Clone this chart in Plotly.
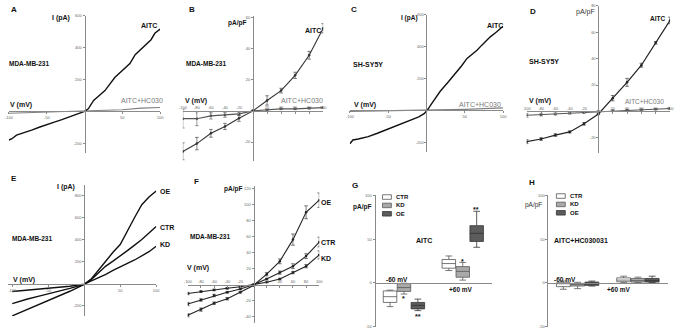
import plotly.graph_objects as go

W, H = 676, 333
AX = "#8a8a8a"
FONT = "Liberation Sans"

# ---------------- data ----------------
# Panel A (MDA-MB-231, I/V ramp, pA)
A_V_AITC = [-100, -96, -90, -80, -70, -60, -50, -40, -30, -20, -10, 0, 5, 12, 18, 27, 40, 52, 60, 67, 80, 88, 93, 100]
A_I_AITC = [-180, -172, -150, -135, -118, -100, -82, -68, -52, -36, -18, 0, 16, 68, 93, 130, 212, 263, 300, 356, 418, 450, 490, 516]
A_V_HC = [-100, -50, 0, 50, 75, 100]
A_I_HC = [-12, -6, 0, 10, 20, 24]

# Panel B (MDA-MB-231, pA/pF, mean +- sem)
B_V = [-100, -80, -60, -40, -20, 0, 20, 40, 60, 80, 100]
B_AITC = [-26, -21, -14.4, -10, -4.7, 0, 6.7, 13, 22.8, 35.7, 53]
B_AITC_ERR = [5.5, 4, 2.5, 2, 2, 0.5, 3, 1.5, 2, 2.5, 3]
B_HC = [-5, -5, -3.2, -2.6, -1.9, 0, 0.6, 1.3, 1.3, 1.7, 2.1]
B_HC_ERR = [6, 4.5, 2, 1.5, 1, 0.3, 0.5, 0.5, 0.5, 0.5, 0.5]

# Panel C (SH-SY5Y, I/V ramp, pA)
C_V_AITC = [-100, -96, -89, -76, -64, -51, -38, -25, -16, -10, -3, 1, 7.5, 18, 29, 40, 46, 53, 66, 72, 83, 91, 100]
C_I_AITC = [-210, -186, -180, -165, -144, -118, -97, -70, -50, -41, -21, 0, 47, 120, 181, 243, 280, 326, 377, 408, 460, 490, 528]
C_V_HC = [-100, -50, 0, 50, 100]
C_I_HC = [-6, -3, 0, 6, 15]

# Panel D (SH-SY5Y, pA/pF)
D_V = [-100, -80, -60, -40, -20, 0, 20, 40, 60, 80, 100]
D_AITC = [-23, -21, -18, -15.6, -9.5, -2, 10, 22, 35, 52, 69]
D_AITC_ERR = [1.5, 1, 1, 0.8, 1, 0.5, 2, 3, 1.5, 1, 2.5]
D_HC = [-3, -2.5, -2, -1.5, -1, 0, 0.5, 1, 1.3, 1.6, 2.2]
D_HC_ERR = [1.5, 1, 0.8, 0.5, 0.5, 0.3, 0.5, 0.5, 0.5, 0.5, 0.8]

# Panel E (MDA-MB-231, CTR / KD / OE ramps, pA)
E_V = [-100, -80, -60, -40, -20, 0, 10, 20, 30, 40, 50, 60, 70, 80, 90, 100]
E_OE = [-290, -235, -180, -125, -68, -5, 45, 125, 210, 285, 355, 480, 600, 715, 785, 840]
E_CTR = [-180, -140, -108, -78, -42, -5, 40, 100, 160, 205, 250, 300, 350, 400, 460, 518]
E_KD = [-70, -58, -45, -35, -22, -3, 25, 55, 85, 120, 155, 185, 215, 250, 290, 340]

# Panel F (MDA-MB-231, pA/pF)
F_V = [-100, -80, -60, -40, -20, 0, 20, 40, 60, 80, 100]
F_OE = [-38, -31, -23, -17.5, -9.4, -1, 13, 29, 56, 90, 105]
F_OE_ERR = [2, 2, 1.5, 1.5, 1, 0.5, 2, 3, 7, 8, 9]
F_CTR = [-24, -19, -13.5, -9.4, -5.3, 0, 7, 15, 23, 35.5, 53]
F_CTR_ERR = [2, 1.5, 1.5, 1, 1, 0.5, 1, 2, 3, 3, 6]
F_KD = [-11, -8.6, -6.5, -4.5, -2.5, 0, 3, 7, 15, 23, 37]
F_KD_ERR = [1.5, 1, 1, 1, 0.5, 0.5, 0.5, 1, 1.5, 2, 5]

# Panels G / H (box stats, pA/pF)
GROUPS = ["-60 mV", "+60 mV"]
G_STATS = {
    "CTR": dict(lf=[-27.4, 14], q1=[-22.6, 16.7], med=[-16, 22], q3=[-9.4, 26.7], uf=[-8.5, 30.7]),
    "KD": dict(lf=[-13, 3], q1=[-10, 6.3], med=[-5.5, 13], q3=[-1, 18.5], uf=[-0.5, 23.3]),
    "OE": dict(lf=[-32, 40.7], q1=[-30, 47.4], med=[-26, 56.7], q3=[-22.6, 65.5], uf=[-18.8, 82]),
}
H_STATS = {
    "CTR": dict(lf=[-7.5, 0.5], q1=[-4.5, 1.1], med=[-1, 3], q3=[0, 5.6], uf=[2, 7.5]),
    "KD": dict(lf=[-6.8, 0.3], q1=[-3.8, 0.75], med=[-2, 2.5], q3=[-0.75, 4.9], uf=[0.5, 6.4]),
    "OE": dict(lf=[-3.8, 0.3], q1=[-3, 0.75], med=[-1.5, 2.5], q3=[0.75, 4.9], uf=[1.9, 7.5]),
}
BOX_FILL = {"CTR": "#ffffff", "KD": "#a9a9a9", "OE": "#5c5c5c"}
BOX_LINE = {"CTR": "#555555", "KD": "#5a5a5a", "OE": "#333333"}

# ---------------- geometry (pixels) ----------------
# name: (x_px0, x_px1, x_range, y_px_top, y_px_bot, y_range(top,bottom))
PANELS = {
    "A": (5, 158, (-100, 100), 13, 152, (600, -260)),
    "B": (181, 323, (-100, 100), 13, 160, (61, -31.9)),
    "C": (350, 505, (-100, 100), 12, 151, (600, -260)),
    "D": (529, 674, (-100, 100), 3, 152, (80, -31.4)),
    "E": (4, 154, (-106, 100), 185, 318, (892, -294)),
    "F": (186, 319, (-100, 100), 186, 325, (122.4, -47.8)),
    "G": (375, 494, (-0.5, 1.5), 195, 328.5, (100.6, -50.3)),
    "H": (550, 672, (-0.5, 1.5), 195, 328.5, (100.6, -50.3)),
}
TICKS = {
    "A": dict(x=[-100, -50, 50, 100], y=[600, 400, 200, -200], side="bottom"),
    "B": dict(x=[-100, -80, -60, -40, -20, 20, 40, 60, 80, 100], y=[60, 40, 20, -20], side="top"),
    "C": dict(x=[-100, -50, 50, 100], y=[600, 400, 200, -200], side="bottom"),
    "D": dict(x=[-100, -80, -60, -40, -20, 20, 40, 60, 80, 100], y=[80, 60, 40, 20, -20], side="top"),
    "E": dict(x=[-100, -50, 50, 100], y=[800, 600, 400, 200, -200], side="bottom"),
    "F": dict(x=[-100, -80, -60, -40, -20, 20, 40, 60, 80, 100], y=[120, 100, 80, 60, 40, 20, -20, -40], side="top"),
    "G": dict(x=[], y=[100, 50, 0, -50], side="bottom"),
    "H": dict(x=[], y=[100, 50, 0, -50], side="bottom"),
}

fig = go.Figure()
layout = {}
AXID = {}
for i, (name, (x0, x1, xr, yt, yb, yr)) in enumerate(PANELS.items()):
    n = "" if i == 0 else str(i + 1)
    AXID[name] = ("x" + n, "y" + n)
    if name in ("G", "H"):
        zx_px = x0
    else:
        zx_px = x0 + (0 - xr[0]) / (xr[1] - xr[0]) * (x1 - x0)
    zy_px = yt + (yr[0] - 0) / (yr[0] - yr[1]) * (yb - yt)
    t = TICKS[name]
    xside = t["side"]
    layout["xaxis" + n] = dict(
        domain=[x0 / W, x1 / W], range=list(xr), anchor="free", position=1 - zy_px / H,
        showline=True, linecolor=AX, linewidth=1, showgrid=False, zeroline=False,
        ticks=("inside" if xside == "top" else "outside") if t["x"] else "",
        ticklen=2, tickwidth=0.6, tickcolor=AX,
        side=xside, tickfont=dict(size=4, color="#666", family=FONT),
        fixedrange=True,
    )
    if name in ("G", "H"):
        layout["xaxis" + n].update(type="category", showticklabels=False,
                                   categoryorder="array", categoryarray=GROUPS)
    else:
        layout["xaxis" + n].update(tickmode="array", tickvals=t["x"],
                                   ticktext=[str(v) for v in t["x"]])
    layout["yaxis" + n] = dict(
        domain=[1 - yb / H, 1 - yt / H], range=[yr[1], yr[0]], anchor="free",
        position=zx_px / W, showline=True, linecolor=AX, linewidth=1, showgrid=False,
        zeroline=False, ticks="outside", ticklen=2, tickwidth=0.6, tickcolor=AX,
        tickmode="array", tickvals=t["y"], ticktext=[str(v) for v in t["y"]],
        tickfont=dict(size=4, color="#666", family=FONT), fixedrange=True,
    )


def line(name, xs, ys, color="#111", width=1.4, err=None, markers=False):
    xa, ya = AXID[name]
    kw = dict(x=xs, y=ys, xaxis=xa, yaxis=ya, showlegend=False,
              mode="lines+markers" if markers else "lines",
              line=dict(color=color, width=width),
              marker=dict(size=2.5, color=color), hoverinfo="skip")
    if err is not None:
        kw["error_y"] = dict(type="data", array=err, color=color, thickness=0.6, width=1.8)
    fig.add_trace(go.Scatter(**kw))


line("A", A_V_HC, A_I_HC, color="#808080", width=1.2)
line("A", A_V_AITC, A_I_AITC)
line("B", B_V, B_HC, color="#555", width=1.1, err=B_HC_ERR, markers=True)
line("B", B_V, B_AITC, color="#333", width=1.1, err=B_AITC_ERR, markers=True)
line("C", C_V_HC, C_I_HC, color="#808080", width=1.2)
line("C", C_V_AITC, C_I_AITC)
line("D", D_V, D_HC, color="#555", width=1.1, err=D_HC_ERR, markers=True)
line("D", D_V, D_AITC, color="#222", width=1.2, err=D_AITC_ERR, markers=True)
line("E", E_V, E_KD)
line("E", E_V, E_CTR)
line("E", E_V, E_OE)
line("F", F_V, F_KD, color="#222", width=1.1, err=F_KD_ERR, markers=True)
line("F", F_V, F_CTR, color="#222", width=1.1, err=F_CTR_ERR, markers=True)
line("F", F_V, F_OE, color="#222", width=1.1, err=F_OE_ERR, markers=True)

for panel, stats in (("G", G_STATS), ("H", H_STATS)):
    xa, ya = AXID[panel]
    for grp, s in stats.items():
        fig.add_trace(go.Box(
            x=GROUPS, q1=s["q1"], median=s["med"], q3=s["q3"],
            lowerfence=s["lf"], upperfence=s["uf"], name=grp,
            xaxis=xa, yaxis=ya, showlegend=False, fillcolor=BOX_FILL[grp],
            alignmentgroup=panel, offsetgroup=panel + grp,
            line=dict(color=BOX_LINE[grp], width=0.8), whiskerwidth=0.5,
            boxpoints=False, hoverinfo="skip",
        ))

anns = []
shapes = []


def txt(s, px, py, size=7, color="#111", anchor="left", bold=True):
    anns.append(dict(text=("<b>" + s + "</b>") if bold else s, x=px / W, y=1 - py / H,
                     xref="paper", yref="paper", xanchor=anchor, yanchor="middle",
                     showarrow=False, font=dict(size=size, color=color, family=FONT)))


def legend_key(grp, px, py):
    # legend swatch (key) + label, positioned in pixels
    shapes.append(dict(type="rect", xref="paper", yref="paper",
                       x0=px / W, x1=(px + 9) / W, y0=1 - (py + 2.3) / H, y1=1 - (py - 2.3) / H,
                       fillcolor=BOX_FILL[grp], line=dict(color=BOX_LINE[grp], width=0.8)))
    txt(grp, px + 12, py, size=6)


# panel letters
for L, (px, py) in {"A": (5, 7), "B": (185, 7), "C": (349, 7), "D": (530, 9),
                    "E": (5, 178), "F": (190, 181), "G": (350, 185), "H": (529, 182)}.items():
    txt(L, px, py, size=8)

GRAY = "#7a7a7a"
# A
txt("I (pA)", 58, 15, anchor="center")
txt("MDA-MB-231", 3, 61, size=6.5)
txt("V (mV)", 4, 104)
txt("AITC", 147, 23, anchor="center")
txt("AITC+HC030", 140, 99, color=GRAY, anchor="center", bold=False)
# B
txt("pA/pF", 236, 20, anchor="center", size=6.5)
txt("MDA-MB-231", 182, 61, size=6.5)
txt("V (mV)", 181, 99)
txt("AITC", 313, 28, anchor="center")
txt("AITC+HC030", 302, 99, color=GRAY, anchor="center", bold=False)
# C
txt("I (pA)", 410, 15, anchor="center", size=6.5)
txt("SH-SY5Y", 351, 62)
txt("V (mV)", 352, 104)
txt("AITC", 497, 23, anchor="center")
txt("AITC+HC030", 482, 103, color=GRAY, anchor="center", bold=False)
# D
txt("pA/pF", 588, 9, anchor="center", bold=False, color="#333")
txt("SH-SY5Y", 529, 59)
txt("V (mV)", 529, 100)
txt("AITC", 671, 16, anchor="right", size=6.5)
txt("AITC+HC030", 670, 100, color=GRAY, anchor="right", bold=False, size=6.5)
# E
txt("I (pA)", 63, 187, anchor="center")
txt("MDA-MB-231", 6, 239, size=6.5)
txt("V (mV)", 7, 281)
txt("OE", 156, 191)
txt("CTR", 156, 228)
txt("KD", 156, 245)
# F
txt("pA/pF", 232, 189, anchor="center", size=6.5)
txt("MDA-MB-231", 186, 237, size=6.5)
txt("V (mV)", 183, 269)
txt("OE", 319, 203)
txt("CTR", 319, 243)
txt("KD", 319, 259)
# G
txt("pA/pF", 351, 207, size=6.5)
txt("AITC", 425, 241, anchor="center")
txt("-60 mV", 398, 281, size=6.5, anchor="center")
txt("+60 mV", 462, 291, size=6.5, anchor="center")
txt("*", 404, 300, anchor="center")
txt("**", 419, 318, anchor="center")
txt("*", 464, 262, anchor="center")
txt("**", 478, 210, anchor="center")
for k, grp in enumerate(["CTR", "KD", "OE"]):
    legend_key(grp, 383, 197 + 8.5 * k)
# H
txt("pA/pF", 525, 205, size=6.5, bold=False, color="#333")
txt("AITC+HC030031", 584, 241, anchor="center")
txt("-60 mV", 568, 281, size=6.5, anchor="center")
txt("+60 mV", 622, 291, size=6.5, anchor="center")
for k, grp in enumerate(["CTR", "KD", "OE"]):
    legend_key(grp, 559, 196 + 8.5 * k)

fig.update_layout(
    **layout,
    width=W, height=H, margin=dict(l=0, r=0, t=0, b=0),
    paper_bgcolor="white", plot_bgcolor="rgba(0,0,0,0)",
    boxmode="group", boxgap=0.29, boxgroupgap=0.03,
    annotations=anns, shapes=shapes, showlegend=False,
    font=dict(family=FONT),
)
fig.write_html("out.html", config={"displayModeBar": False},
               post_script="document.body.style.margin='0';document.body.style.overflow='hidden';")
